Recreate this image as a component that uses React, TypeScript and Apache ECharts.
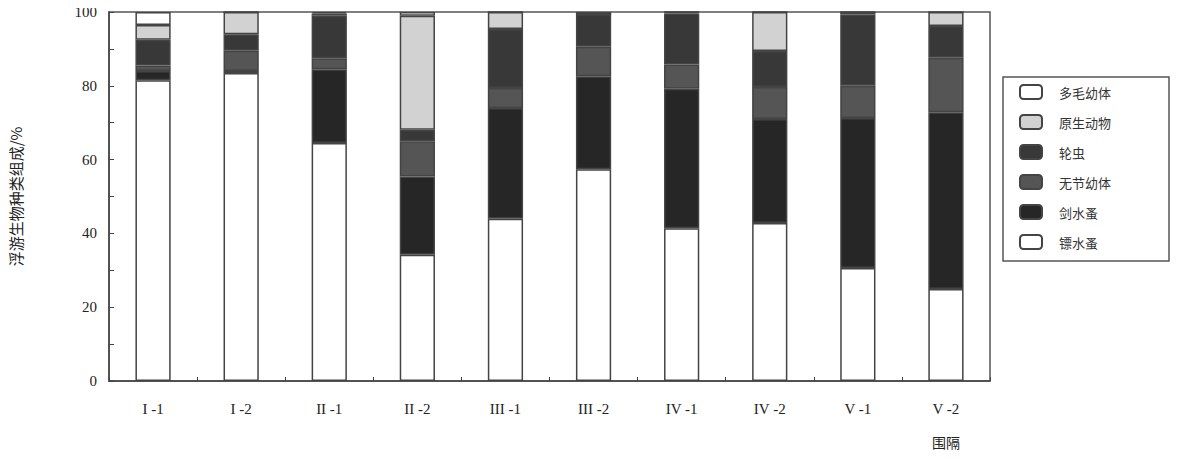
import React, { useEffect, useRef } from "react";
import * as echarts from "echarts";

const categories = ["I -1", "I -2", "II -1", "II -2", "III -1", "III -2", "IV -1", "IV -2", "V -1", "V -2"];
const yTicks = [0, 20, 40, 60, 80, 100];

// bottom to top
const biaoShuiZao = [81.5, 83.5, 64.5, 34.2, 44.0, 57.4, 41.4, 42.8, 30.6, 24.9];
const jianShuiZao = [2.5, 0.5, 20.0, 21.2, 30.0, 25.2, 37.8, 28.2, 40.7, 47.9];
const wuJieYouTi = [1.5, 5.5, 3.0, 9.6, 5.4, 8.0, 6.6, 8.7, 8.7, 14.8];
const lunChong = [7.0, 4.5, 11.5, 3.1, 16.0, 8.8, 13.8, 9.7, 19.3, 8.6];
const yuanShengDongWu = [4.0, 6.0, 0.6, 30.9, 4.6, 0.0, 0.4, 10.6, 0.7, 3.8];
const duoMaoYouTi = [3.5, 0.0, 0.4, 1.0, 0.0, 0.6, 0.0, 0.0, 0.0, 0.0];

const seriesDefs = [
  { name: "镖水蚤", data: biaoShuiZao, color: "#ffffff" },
  { name: "剑水蚤", data: jianShuiZao, color: "#262626" },
  { name: "无节幼体", data: wuJieYouTi, color: "#555555" },
  { name: "轮虫", data: lunChong, color: "#383838" },
  { name: "原生动物", data: yuanShengDongWu, color: "#d2d2d2" },
  { name: "多毛幼体", data: duoMaoYouTi, color: "#ffffff" },
];
const legendOrder = ["多毛幼体", "原生动物", "轮虫", "无节幼体", "剑水蚤", "镖水蚤"];

const CJK = "'Noto Sans CJK SC', 'Noto Sans', sans-serif";
const SERIF = "'Liberation Serif', 'DejaVu Serif', serif";

export default function App() {
  const ref = useRef<HTMLDivElement>(null);
  useEffect(() => {
    if (!ref.current) return;
    const chart = echarts.init(ref.current, null, { renderer: "svg" });
    chart.setOption({
      animation: false,
      backgroundColor: "#ffffff",
      grid: {
        left: 107,
        right: 197,
        top: 12,
        bottom: 78,
        show: true,
        borderColor: "#555",
        borderWidth: 1.5,
        backgroundColor: "transparent",
      },
      legend: {
        orient: "vertical",
        left: 1003,
        top: 77,
        data: legendOrder,
        itemWidth: 22,
        itemHeight: 14,
        itemGap: 14,
        padding: [7, 58, 11, 16],
        borderColor: "#555",
        borderWidth: 1.5,
        textStyle: { fontFamily: CJK, fontSize: 13, color: "#333", padding: [0, 0, 0, 12] },
      },
      xAxis: {
        type: "category",
        data: categories,
        name: "围隔",
        nameLocation: "end",
        nameGap: 0,
        nameTextStyle: {
          fontFamily: CJK,
          fontSize: 14,
          color: "#222",
          align: "center",
          verticalAlign: "top",
          padding: [54, 0, 0, -88],
        },
        axisLine: { show: true, lineStyle: { color: "#444", width: 1.5 } },
        axisTick: { show: true, inside: true, length: 4, lineStyle: { color: "#444" } },
        axisLabel: { fontFamily: SERIF, fontSize: 15, color: "#222", margin: 20 },
      },
      yAxis: {
        type: "value",
        min: 0,
        max: 100,
        interval: 10,
        name: "浮游生物种类组成/%",
        nameLocation: "middle",
        nameRotate: 90,
        nameGap: 86,
        nameTextStyle: { fontFamily: CJK, fontSize: 15, color: "#222" },
        axisLine: { show: true, lineStyle: { color: "#444", width: 1.5 } },
        axisTick: { show: true, inside: true, length: 5, lineStyle: { color: "#444" } },
        splitLine: { show: false },
        axisLabel: {
          fontFamily: SERIF,
          fontSize: 15,
          color: "#222",
          margin: 12,
          formatter: (v: number) => (yTicks.includes(v) ? String(v) : ""),
        },
      },
      series: seriesDefs.map((s) => ({
        name: s.name,
        type: "bar",
        stack: "total",
        data: s.data,
        barWidth: "40%",
        itemStyle: { color: s.color, borderColor: "#444", borderWidth: 1.5 },
      })),
    });
    return () => chart.dispose();
  }, []);
  return <div ref={ref} style={{ width: 1187, height: 459, margin: -8 }} />;
}
